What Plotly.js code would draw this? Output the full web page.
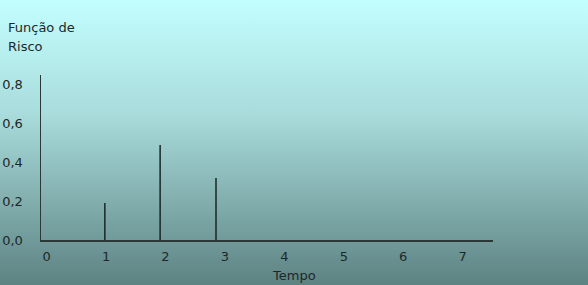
<!DOCTYPE html>
<html>
<head>
<meta charset="utf-8">
<script src="https://cdn.plot.ly/plotly-3.0.1.min.js"></script>
<style>
  html, body { margin: 0; padding: 0; }
  body { width: 588px; height: 285px; background: linear-gradient(to bottom, #c3fefe 0%, #a9dcdc 40%, #5d8282 100%); overflow: hidden; }
  #chart { width: 588px; height: 285px; }
</style>
</head>
<body>
<div id="chart"></div>
<script>
// Data
const tempos = [0.98, 1.91, 2.85];
const risco = [0.19, 0.49, 0.32];
const xTicks = [0, 1, 2, 3, 4, 5, 6, 7];
const yTicks = [0, 0.2, 0.4, 0.6, 0.8];
const yTitleLines = ['Função de', 'Risco'];
const xTitle = 'Tempo';

const xs = [], ys = [];
tempos.forEach((t, i) => { xs.push(t, t, null); ys.push(0, risco[i], null); });

const font = { family: 'DejaVu Sans, Verdana, sans-serif', size: 13, color: '#1e2828' };

const trace = {
  x: xs, y: ys, type: 'scatter', mode: 'lines',
  line: { color: '#1a2626', width: 1.5 },
  hoverinfo: 'skip', showlegend: false
};

const layout = {
  width: 588, height: 285,
  margin: { l: 41, r: 95, t: 75, b: 45, pad: 0 },
  paper_bgcolor: 'rgba(0,0,0,0)',
  plot_bgcolor: 'rgba(0,0,0,0)',
  separators: ',.',
  font: font,
  showlegend: false,
  xaxis: {
    range: [-0.094, 7.51], tickvals: xTicks, ticks: '', showgrid: false, zeroline: false,
    showline: true, linecolor: '#2a3838', linewidth: 1.5, ticklabelstandoff: 4,
    tickfont: font, fixedrange: true
  },
  yaxis: {
    range: [0, 0.85], tickvals: yTicks, tickformat: '.1f', ticks: '', showgrid: false, zeroline: false,
    showline: true, linecolor: '#2a3838', linewidth: 1.5, ticklabelstandoff: 14,
    tickfont: font, fixedrange: true
  },
  annotations: [
    { text: yTitleLines[0], xref: 'paper', yref: 'paper', x: -35/452, y: (285-45-28)/165, xanchor: 'left', yanchor: 'middle', showarrow: false, font: font },
    { text: yTitleLines[1], xref: 'paper', yref: 'paper', x: -35/452, y: (285-45-46)/165, xanchor: 'left', yanchor: 'middle', showarrow: false, font: font },
    { text: xTitle, xref: 'paper', yref: 'paper', x: (294-41)/452, y: -(275-240)/165, xanchor: 'center', yanchor: 'middle', showarrow: false, font: font }
  ]
};

Plotly.newPlot('chart', [trace], layout, { staticPlot: true, displayModeBar: false });
</script>
</body>
</html>
